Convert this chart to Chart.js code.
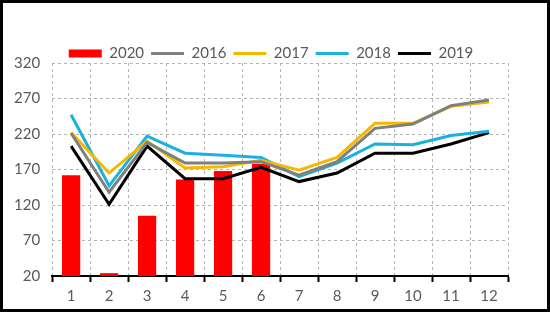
<!DOCTYPE html>
<html>
  <head>
    <meta charset="UTF-8" />
    <script src="https://cdn.jsdelivr.net/npm/chart.js"></script>
    <style>
      body { margin: 0; background: #fff; }
      #wrap { width: 550px; height: 312px; }
    </style>
  </head>
  <body>
    <div id="wrap"><canvas id="chart_main"></canvas></div>

    <script>
      const months = ['1', '2', '3', '4', '5', '6', '7', '8', '9', '10', '11', '12'];
      const values2020 = [162, 24, 105, 156, 168, 178];
      const values2016 = [221, 138, 208, 179, 179, 181, 162, 181, 228, 234, 260, 268];
      const values2017 = [222, 165, 210, 172, 174, 183, 169, 187, 235, 235, 259, 265];
      const values2018 = [247, 147, 217, 193, 190, 187, 160, 179, 206, 205, 218, 224];
      const values2019 = [203, 121, 203, 157, 157, 173, 153, 165, 193, 193, 206, 222];
      const yTicks = [20, 70, 120, 170, 220, 270, 320];

      const textColor = '#595959';
      const gridColor = '#b4b4b4';
      const font = { family: 'Lato', size: 15 };

      // marco preto em volta da imagem
      const framePlugin = {
        id: 'frame',
        beforeInit(chart) {
          // legenda mais colada no gráfico e um pouco à direita
          const fit = chart.legend.fit;
          chart.legend.fit = function () {
            fit.call(this);
            this.height -= 7;
          };
          const draw = chart.legend.draw;
          chart.legend.draw = function () {
            this.ctx.save();
            this.ctx.translate(16, 1);
            draw.call(this);
            this.ctx.restore();
          };
        },
        afterDraw(chart) {
          const ctx = chart.ctx;
          ctx.save();
          ctx.strokeStyle = '#000';
          ctx.lineWidth = 3;
          ctx.strokeRect(1.5, 1.5, chart.width - 3, chart.height - 3);
          ctx.restore();
        },
      };

      function lineSet(label, data, color) {
        return {
          type: 'line',
          label: label,
          data: data,
          borderColor: color,
          backgroundColor: color,
          borderWidth: 3,
          pointRadius: 0,
          tension: 0,
          order: 1,
        };
      }

      new Chart(document.getElementById('chart_main'), {
        type: 'bar',
        data: {
          labels: months,
          datasets: [
            {
              label: '2020',
              data: values2020,
              backgroundColor: '#ff0000',
              borderWidth: 0,
              barPercentage: 0.48,
              categoryPercentage: 1,
              order: 2,
            },
            lineSet('2016', values2016, '#7f7f7f'),
            lineSet('2017', values2017, '#f5b800'),
            lineSet('2018', values2018, '#1ab0e0'),
            lineSet('2019', values2019, '#000000'),
          ],
        },
        options: {
          responsive: true,
          maintainAspectRatio: false,
          animation: false,
          layout: { padding: { left: 2, right: 42, top: 38, bottom: 2 } },
          plugins: {
            tooltip: { enabled: false },
            legend: {
              position: 'top',
              labels: {
                font: font,
                color: textColor,
                usePointStyle: true,
                pointStyleWidth: 33,
                boxHeight: 8,
                padding: 7,
                sort: (a, b) => a.datasetIndex - b.datasetIndex,
                generateLabels(chart) {
                  const items = Chart.defaults.plugins.legend.labels.generateLabels(chart);
                  return items.map((item) => {
                    const ds = chart.data.datasets[item.datasetIndex];
                    if (ds.type === 'line') {
                      item.pointStyle = 'line';
                      item.lineWidth = 3;
                      item.strokeStyle = ds.borderColor;
                    } else {
                      item.pointStyle = 'rect';
                      item.lineWidth = 0;
                      item.fillStyle = ds.backgroundColor;
                    }
                    return item;
                  });
                },
              },
            },
          },
          scales: {
            x: {
              grid: {
                color: gridColor,
                lineWidth: 1,
                offset: true,
                borderDash: [3, 3],
                tickColor: '#000',
                tickLength: 6,
                tickWidth: 2,
                tickBorderDash: [],
              },
              border: { color: '#000', width: 2, dash: [3, 3] },
              ticks: { font: font, color: textColor, padding: 5 },
            },
            y: {
              min: 20,
              max: 320,
              afterBuildTicks(axis) {
                axis.ticks = yTicks.map((v) => ({ value: v }));
              },
              grid: { color: gridColor, lineWidth: 1, drawTicks: false, borderDash: [3, 3] },
              border: { display: false, dash: [3, 3] },
              ticks: { font: font, color: textColor, padding: 12 },
            },
          },
        },
        plugins: [framePlugin],
      });
    </script>
  </body>
</html>
